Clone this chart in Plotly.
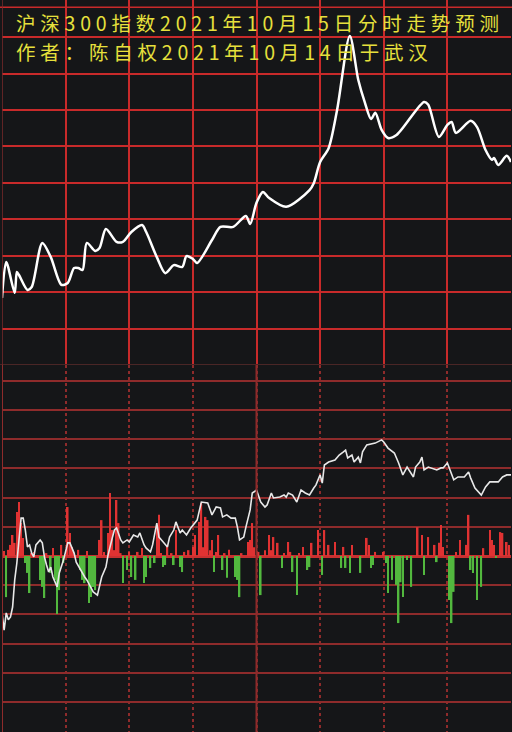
import plotly.graph_objects as go

# ---------------- data (minutes since 9:30 on a 240-minute session) ----------------
pred_minutes = [0, 2, 6, 7, 8, 12, 14, 19, 23, 28, 31, 34, 36, 38, 40, 44, 46, 49, 54, 57,
                61, 66, 68, 73, 77, 81, 85, 87, 90, 92, 99, 103, 109, 115, 117, 120, 123, 126,
                134, 145, 147, 150, 154, 158, 164, 168, 171, 174, 176, 179, 182, 186, 199, 201,
                206, 210, 212, 214, 221, 224, 228, 231, 232, 234, 238, 240]
pred_values = [1.84, 2.83, 1.98, 2.55, 2.47, 2.06, 2.14, 3.35, 2.96, 2.20, 2.25, 2.66, 2.66, 2.61,
               3.35, 3.13, 3.21, 3.73, 3.38, 3.38, 3.65, 3.84, 3.65, 2.96, 2.52, 2.74, 2.69, 2.99,
               2.91, 2.80, 3.43, 3.79, 3.79, 4.09, 3.87, 4.45, 4.75, 4.58, 4.34, 4.80, 4.99, 5.57,
               5.95, 7.00, 9.03, 7.82, 7.22, 6.75, 6.92, 6.45, 6.23, 6.31, 7.22, 7.14, 6.26, 6.59,
               6.67, 6.37, 6.70, 6.53, 5.90, 5.63, 5.68, 5.49, 5.74, 5.57]

actual_minutes = [0, 1, 2, 3, 4, 5, 6, 7, 8, 9, 10, 11, 12, 13, 14, 15, 16, 17, 18, 19, 20, 21, 22,
                  23, 24, 26, 27, 29, 31, 32, 34, 35, 37, 39, 40, 43, 45, 46, 47, 49, 50, 52, 53,
                  54, 56, 57, 59, 60, 62, 64, 65, 67, 68, 70, 71, 73, 74, 76, 78, 79, 81, 82, 84,
                  85, 87, 89, 91, 92, 94, 97, 99, 101, 103, 104, 106, 108, 110, 111, 112, 114, 115,
                  117, 118, 120, 122, 124, 125, 127, 128, 131, 133, 134, 135, 137, 139, 141, 143,
                  145, 147, 148, 150, 151, 152, 154, 157, 159, 161, 162, 163, 165, 166, 168, 169,
                  170, 172, 174, 176, 179, 180, 182, 185, 187, 188, 189, 191, 192, 194, 195, 197,
                  198, 199, 201, 202, 205, 207, 208, 210, 212, 213, 215, 218, 220, 221, 223, 226,
                  228, 230, 233, 234, 236, 238, 240]
actual_values = [-1.95, -2.54, -1.95, -2.19, -2.09, -1.75, -0.82, -0.24, 0.55, 1.30, 1.30, 0.89,
                 0.31, 0.38, 0.10, -0.03, 0.38, 0.48, 0.55, 0.45, -0.03, -0.31, -0.55, -0.38,
                 -0.72, -1.06, -0.58, -0.14, 0.45, 0.45, 0.10, -0.21, -0.48, -0.72, -0.82, -1.23,
                 -1.34, -1.06, -0.72, -0.38, 0.03, 0.62, 0.89, 0.96, 0.55, 0.45, 0.55, 0.48, 0.72,
                 0.65, 0.79, 0.38, 0.27, 0.14, 0.38, 1.13, 0.65, 0.48, 0.31, 0.65, 0.89, 1.17,
                 0.79, 0.89, 0.72, 0.96, 1.13, 1.23, 1.85, 1.82, 1.41, 1.68, 1.65, 1.34, 1.41,
                 1.30, 1.30, 0.99, 0.55, 0.65, 0.99, 1.58, 2.16, 2.26, 1.85, 1.68, 1.75, 2.16,
                 1.99, 2.02, 2.09, 2.02, 2.16, 2.09, 1.85, 2.26, 2.16, 2.09, 2.33, 2.43, 2.78,
                 2.50, 3.12, 3.22, 3.29, 3.46, 3.57, 3.63, 3.36, 3.46, 3.22, 3.39, 3.19, 3.57,
                 3.81, 3.84, 3.87, 3.98, 3.91, 3.70, 3.53, 3.19, 2.95, 2.78, 3.05, 2.95, 2.71,
                 3.05, 3.22, 3.39, 2.95, 3.05, 3.02, 2.95, 3.02, 3.02, 3.19, 2.78, 2.61, 2.71,
                 2.71, 2.88, 2.67, 2.33, 2.09, 2.37, 2.54, 2.54, 2.54, 2.71, 2.78, 2.78]

flow_minutes = [1, 2, 3, 4, 5, 6, 7, 8, 9, 10, 11, 12, 13, 14, 15, 18, 19, 20, 21, 23, 24, 25, 26,
                27, 28, 29, 31, 32, 33, 34, 36, 37, 38, 39, 40, 41, 42, 43, 44, 46, 47, 48, 50,
                51, 52, 53, 54, 55, 56, 57, 59, 60, 61, 63, 64, 66, 67, 68, 70, 72, 73, 74, 75,
                76, 77, 78, 80, 81, 82, 84, 85, 86, 88, 90, 91, 93, 94, 95, 96, 97, 98, 99, 100,
                101, 102, 104, 105, 106, 107, 110, 111, 112, 113, 116, 117, 118, 119, 121, 122,
                124, 126, 127, 128, 130, 132, 133, 135, 136, 137, 139, 140, 142, 144, 145, 146,
                149, 151, 152, 154, 157, 160, 161, 162, 164, 165, 169, 172, 173, 174, 175, 176,
                180, 181, 182, 184, 186, 187, 188, 189, 191, 193, 196, 198, 199, 201, 204, 205,
                206, 207, 208, 211, 212, 213, 214, 216, 219, 220, 221, 222, 224, 226, 227, 230,
                231, 232, 233, 235, 236, 238, 239]
flow_values = [0.17, -1.41, 0.21, 0.38, 0.72, 0.45, 1.51, 1.85, 1.13, 0.62, -0.24, -0.58, -1.27,
               0.10, 0.14, -0.82, -1.06, -1.44, 0.10, -0.58, 0.27, -0.82, -1.99, -1.17, 0.38,
               -0.24, 1.68, 0.79, 0.31, 0.10, 0.21, -0.48, -0.82, -0.93, 0.17, -1.61, -1.41,
               -1.06, -1.17, 0.55, 1.23, 0.14, 0.79, 2.16, 0.89, 0.20, 1.92, 1.13, 0.10, -0.93,
               -0.48, 0.14, -0.72, -0.82, 0.14, 0.27, -0.93, -0.72, -0.41, -0.24, 0.96, 1.41,
               0.10, -0.38, -0.31, 0.38, 0.10, -0.31, 0.89, -0.38, -0.55, 0.14, 0.20, 0.31, 0.72,
               1.17, 1.82, 0.30, 1.34, 1.23, 0.20, 0.55, -0.55, 0.14, 0.72, -0.48, 0.10, -0.75,
               0.21, -0.72, -0.82, -1.41, 0.10, 0.48, 0.55, 1.13, 0.30, 0.14, -1.34, 0.20, 0.72,
               0.20, 0.65, 0.45, -0.41, 0.10, 0.48, 0.14, -0.55, -1.34, 0.10, 0.31, -0.48, -0.38,
               0.45, 0.89, -0.65, 0.89, 0.38, 0.48, -0.41, 0.31, -0.41, -0.58, 0.38, -0.58, 0.62,
               0.38, -0.41, -0.31, 0.14, 0.14, -0.24, -1.27, -0.82, -0.99, -2.30, -0.90, -1.41,
               -0.14, -1.06, 0.99, 0.72, -0.65, 0.65, 0.38, -0.21, 0.45, 1.06, 0.31, -1.51,
               -2.30, -1.23, 0.14, 0.55, 0.38, 1.41, -0.48, -0.58, -1.51, -1.06, 0.27, 0.89,
               0.55, 0.38, -0.07, 0.82, 0.79, 0.48, 0.38]

title_line1 = "沪深300指数2021年10月15日分时走势预测"
title_line2 = "作者：陈自权2021年10月14日于武汉"

# ---------------- styling ----------------
W, H = 512, 732
BG = "#151618"
GRID_TOP = "#c82a2a"
GRID_BOT = "#8e2b2b"
UP = "#e03232"
DOWN = "#52b83e"
YELLOW = "#e6e03c"

split = 367 / 732  # bottom of upper panel (paper fraction)
xdom = [2 / 512, 511 / 512]

fig = go.Figure()
fig.add_trace(go.Scatter(
    x=pred_minutes, y=pred_values, mode="lines",
    line=dict(color="white", width=2.5, shape="spline", smoothing=0.8),
    xaxis="x", yaxis="y", hoverinfo="skip"))
fig.add_trace(go.Bar(
    x=flow_minutes, y=flow_values, width=0.75,
    marker=dict(color=[UP if v > 0 else DOWN for v in flow_values], line=dict(width=0)),
    xaxis="x2", yaxis="y2", hoverinfo="skip"))
fig.add_trace(go.Scatter(
    x=actual_minutes, y=actual_values, mode="lines",
    line=dict(color="#e8e8e8", width=1.6),
    xaxis="x2", yaxis="y2", hoverinfo="skip"))

common_x = dict(range=[0, 240], dtick=30, tick0=0, showticklabels=False, ticks="",
                zeroline=False, showline=False, fixedrange=True)
fig.update_layout(
    width=W, height=H, margin=dict(l=0, r=0, t=0, b=0),
    paper_bgcolor=BG, plot_bgcolor=BG, showlegend=False, hovermode=False,
    xaxis=dict(domain=xdom, anchor="y", showgrid=True, gridcolor=GRID_TOP, gridwidth=1.5, **common_x),
    yaxis=dict(domain=[split, 1], range=[0, 10.017], dtick=1, tick0=0, showgrid=True,
               gridcolor=GRID_TOP, gridwidth=1.5, showticklabels=False, ticks="",
               zeroline=False, fixedrange=True),
    xaxis2=dict(domain=xdom, anchor="y2", showgrid=True, gridcolor=GRID_BOT, gridwidth=1.5,
                griddash="dot", **common_x),
    yaxis2=dict(domain=[0, split], range=[-6.034, 6.548], dtick=1, tick0=0, showgrid=True,
                gridcolor=GRID_BOT, gridwidth=2, showticklabels=False, ticks="",
                zeroline=True, zerolinecolor="#c83030", zerolinewidth=3, fixedrange=True),
    font=dict(family="Noto Sans CJK SC"),
)

shapes = [
    dict(type="line", xref="paper", yref="y", x0=0, x1=1, y0=9.82, y1=9.82,
         line=dict(color=GRID_TOP, width=1.5)),
    dict(type="line", xref="paper", yref="y", x0=0, x1=1, y0=0, y1=0,
         line=dict(color="#4a2626", width=2)),
    dict(type="line", xref="x", yref="y domain", x0=0, x1=0, y0=0, y1=1,
         line=dict(color="#7a2a2a", width=1.5)),
    dict(type="line", xref="x2", yref="y2 domain", x0=0, x1=0, y0=0, y1=1,
         line=dict(color=GRID_BOT, width=2)),
    dict(type="line", xref="x2", yref="y2 domain", x0=120, x1=120, y0=0, y1=1,
         line=dict(color=GRID_BOT, width=2)),
]
fig.update_layout(shapes=shapes)

for txt, ypix in ((title_line1, 22), (title_line2, 51)):
    fig.add_annotation(text=txt, xref="paper", yref="paper",
                       x=15 / 512, y=1 - ypix / 732, borderpad=0,
                       xanchor="left", yanchor="middle", align="left", showarrow=False,
                       font=dict(family="Noto Sans CJK SC", size=19.5, color=YELLOW))

post = ("var s=document.createElement('style');"
        "s.textContent='body{margin:0;padding:0;overflow:hidden;}"
        ".annotation-text{letter-spacing:4.8px;}';"
        "document.head.appendChild(s);")
fig.write_html("out.html", post_script=post, config={"displayModeBar": False})
